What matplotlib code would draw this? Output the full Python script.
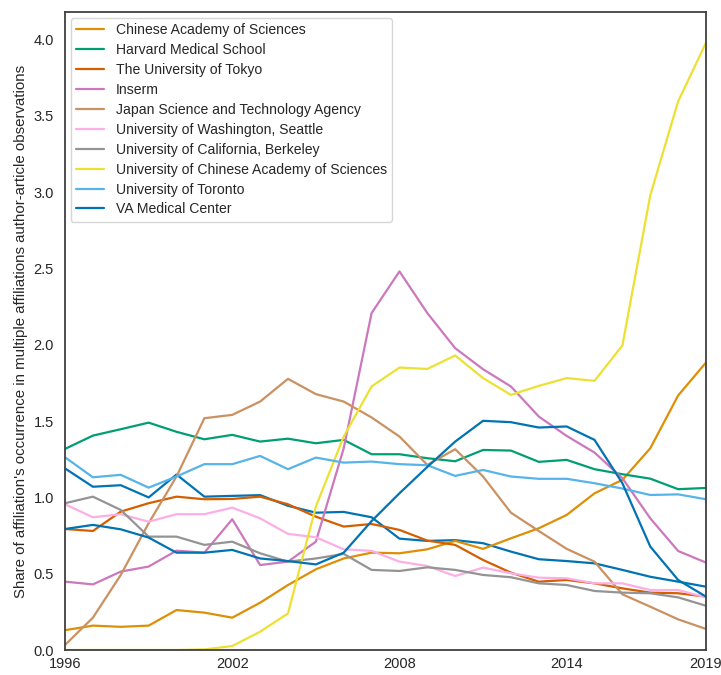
import numpy as np
import matplotlib
matplotlib.use("Agg")
import matplotlib.pyplot as plt
import seaborn as sns

years = np.arange(1996, 2020)

# series (1996..2019)
unlabeled_blue = [1.19, 1.07, 1.08, 1.00, 1.15, 1.005, 1.01, 1.015, 0.945, 0.90, 0.905, 0.87,
                  0.73, 0.715, 0.72, 0.70, 0.645, 0.595, 0.583, 0.568, 0.525, 0.48, 0.448, 0.415]
chinese_academy = [0.13, 0.16, 0.152, 0.16, 0.262, 0.245, 0.212, 0.31, 0.426, 0.529, 0.60, 0.638,
                   0.634, 0.66, 0.715, 0.663, 0.732, 0.798, 0.885, 1.027, 1.115, 1.322, 1.668, 1.884]
harvard = [1.318, 1.405, 1.447, 1.49, 1.43, 1.381, 1.41, 1.366, 1.385, 1.355, 1.377, 1.283,
           1.283, 1.257, 1.237, 1.311, 1.307, 1.233, 1.246, 1.185, 1.152, 1.123, 1.054, 1.062]
tokyo = [0.793, 0.78, 0.907, 0.962, 1.005, 0.988, 0.99, 1.005, 0.955, 0.874, 0.809, 0.826,
         0.787, 0.717, 0.689, 0.59, 0.507, 0.448, 0.459, 0.437, 0.404, 0.376, 0.372, 0.35]
inserm = [0.448, 0.43, 0.514, 0.547, 0.651, 0.638, 0.857, 0.557, 0.579, 0.71, 1.322, 2.208,
          2.481, 2.208, 1.978, 1.84, 1.727, 1.53, 1.403, 1.294, 1.126, 0.863, 0.649, 0.573]
jst = [0.033, 0.212, 0.492, 0.831, 1.137, 1.519, 1.541, 1.628, 1.777, 1.677, 1.628, 1.524,
       1.399, 1.213, 1.316, 1.137, 0.90, 0.78, 0.663, 0.579, 0.365, 0.284, 0.201, 0.138]
uw_seattle = [0.955, 0.87, 0.89, 0.841, 0.89, 0.89, 0.933, 0.863, 0.761, 0.739, 0.66, 0.65,
              0.579, 0.551, 0.485, 0.54, 0.503, 0.474, 0.47, 0.437, 0.437, 0.393, 0.393, 0.345]
berkeley = [0.962, 1.005, 0.918, 0.743, 0.743, 0.689, 0.71, 0.634, 0.579, 0.60, 0.63, 0.525,
            0.518, 0.542, 0.525, 0.492, 0.477, 0.437, 0.426, 0.387, 0.376, 0.372, 0.345, 0.29]
ucas = [0.0, 0.0, 0.0, 0.0, 0.0, 0.004, 0.026, 0.12, 0.24, 0.94, 1.399, 1.727,
        1.851, 1.842, 1.93, 1.782, 1.672, 1.731, 1.782, 1.764, 1.996, 2.98, 3.595, 3.98]
toronto = [1.263, 1.132, 1.148, 1.064, 1.137, 1.218, 1.218, 1.272, 1.185, 1.261, 1.228, 1.235,
           1.218, 1.211, 1.141, 1.18, 1.137, 1.122, 1.122, 1.093, 1.058, 1.016, 1.02, 0.988]
va_medical = [0.793, 0.82, 0.791, 0.737, 0.638, 0.638, 0.656, 0.60, 0.583, 0.561, 0.638, 0.845,
              1.027, 1.20, 1.366, 1.502, 1.493, 1.458, 1.465, 1.377, 1.093, 0.678, 0.459, 0.35]

labels = ["Chinese Academy of Sciences", "Harvard Medical School", "The University of Tokyo",
          "Inserm", "Japan Science and Technology Agency", "University of Washington, Seattle",
          "University of California, Berkeley", "University of Chinese Academy of Sciences",
          "University of Toronto", "VA Medical Center"]
series = [chinese_academy, harvard, tokyo, inserm, jst, uw_seattle, berkeley, ucas, toronto, va_medical]

sns.set_style("white")
plt.rcParams['font.family'] = ['Liberation Sans', 'DejaVu Sans']
palette = sns.color_palette("colorblind", 10)

fig = plt.figure(figsize=(7.21, 6.75), dpi=100)
ax = fig.add_axes([0.0902, 0.037, 0.889, 0.945])

ax.plot(years, unlabeled_blue, color=palette[0], lw=1.6)
for i, (lab, vals) in enumerate(zip(labels, series)):
    ax.plot(years, vals, color=palette[(i + 1) % 10], lw=1.6, label=lab)

ax.set_xlim(1996, 2019)
ax.set_ylim(0, 4.18)
ax.set_xticks([1996, 2002, 2008, 2014, 2019])
ax.set_yticks(np.arange(0, 4.01, 0.5))
ax.tick_params(labelsize=10.5, colors='.15', length=0)
ax.tick_params(axis='y', pad=8)
ax.tick_params(axis='x', pad=5)
ax.set_ylabel("Share of affiliation's occurrence in multiple affiliations author-article observations",
              fontsize=10.8, color='.15', labelpad=4)
for s in ax.spines.values():
    s.set_color('.25')
    s.set_linewidth(1.3)
ax.legend(loc='upper left', fontsize=10.1, frameon=True, borderaxespad=0.4, labelspacing=0.42)

fig.savefig("out.png", dpi=100)
